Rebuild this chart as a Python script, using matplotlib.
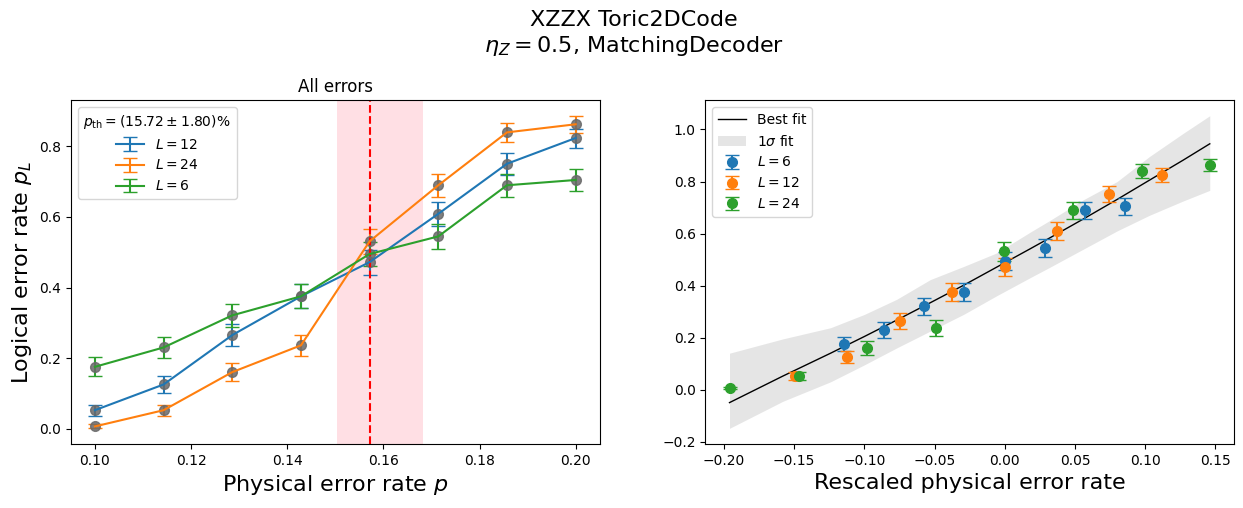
import matplotlib
matplotlib.use('Agg')
import matplotlib.pyplot as plt
import numpy as np

# physical error rates
p = [0.1, 0.11429, 0.12857, 0.14286, 0.15714, 0.17143, 0.18571, 0.2]

# logical error rates and error bars per code size
pL = {
    12: [0.052, 0.125, 0.265, 0.375, 0.472, 0.609, 0.751, 0.824],
    24: [0.006, 0.052, 0.160, 0.236, 0.531, 0.690, 0.840, 0.863],
    6: [0.175, 0.230, 0.321, 0.375, 0.495, 0.545, 0.690, 0.705],
}
pL_err = {
    12: [0.0157, 0.0234, 0.0312, 0.0342, 0.0353, 0.0345, 0.0306, 0.0269],
    24: [0.0055, 0.0157, 0.0259, 0.0300, 0.0353, 0.0327, 0.0259, 0.0243],
    6: [0.0269, 0.0298, 0.0330, 0.0342, 0.0354, 0.0352, 0.0327, 0.0322],
}

# threshold fit
p_th = 0.1572
p_th_lo = 0.1503
p_th_hi = 0.1682
nu = 2.585

# rescaled fit curve and 1 sigma band
fit_x = [-0.196, -0.158, -0.124, -0.100, -0.077, -0.053, -0.029, -0.006,
         0.018, 0.032, 0.056, 0.080, 0.103, 0.127, 0.146]
fit_y = [-0.050, 0.052, 0.140, 0.204, 0.267, 0.334, 0.402, 0.470,
         0.541, 0.583, 0.656, 0.731, 0.805, 0.882, 0.945]
band_lo = [-0.149, -0.045, 0.030, 0.095, 0.160, 0.225, 0.290, 0.360,
           0.430, 0.470, 0.540, 0.610, 0.670, 0.725, 0.766]
band_hi = [0.140, 0.195, 0.238, 0.289, 0.347, 0.423, 0.474, 0.525,
           0.605, 0.650, 0.730, 0.800, 0.896, 0.985, 1.053]


def main():
    fig, (ax1, ax2) = plt.subplots(1, 2, figsize=(12.43, 5.08), dpi=100)
    fig.subplots_adjust(left=0.057, right=0.993, bottom=0.126, top=0.803, wspace=0.2)

    # left: raw curves
    for L in [12, 24, 6]:
        ax1.errorbar(p, pL[L], yerr=pL_err[L], capsize=5, label=r'$L=%d$' % L)
    for L in [12, 24, 6]:
        ax1.plot(p, pL[L], 'o', color='dimgray', alpha=0.85, ms=7)
    ax1.axvline(p_th, color='red', linestyle='--')
    ax1.axvspan(p_th_lo, p_th_hi, color='pink', alpha=0.5, lw=0)
    ax1.set_title('All errors', fontsize=12)
    ax1.set_xlabel(r'Physical error rate $p$', fontsize=16)
    ax1.set_ylabel(r'Logical error rate $p_L$', fontsize=16)
    ax1.legend(title=r'$p_{\mathrm{th}}=(15.72\pm1.80)\%$', loc='upper left')

    # right: data collapse
    ax2.plot(fit_x, fit_y, color='black', lw=1, label='Best fit')
    ax2.fill_between(fit_x, band_lo, band_hi, color='gray', alpha=0.2, lw=0, label=r'1$\sigma$ fit')
    for L in [6, 12, 24]:
        x = (np.array(p) - p_th) * L ** (1.0 / nu)
        ax2.errorbar(x, pL[L], yerr=pL_err[L], fmt='o', capsize=5, ms=7, label=r'$L=%d$' % L)
    ax2.set_xlabel('Rescaled physical error rate', fontsize=16)
    ax2.legend(loc='upper left')

    fig.suptitle('XZZX Toric2DCode\n' + r'$\eta_Z=0.5$, MatchingDecoder', fontsize=16, x=0.51)
    fig.savefig('out.png')


if __name__ == '__main__':
    main()
